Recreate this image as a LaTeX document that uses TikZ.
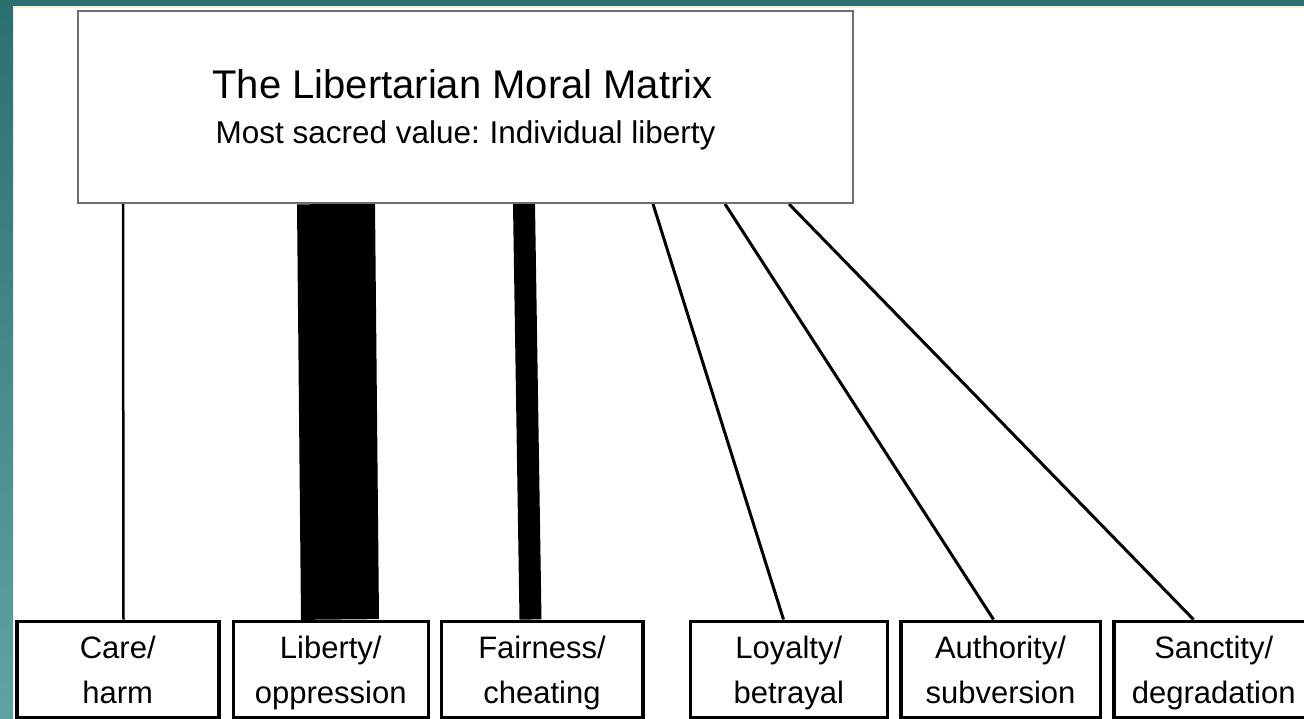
\documentclass[tikz,border=0pt]{standalone}
\usepackage{fontspec}
\setmainfont{Liberation Sans}
\usetikzlibrary{calc}
\definecolor{tealtop}{HTML}{2B7070}
\definecolor{tealbot}{HTML}{5FA3A3}
\definecolor{creamline}{HTML}{F6EED6}
\definecolor{boxgray}{HTML}{6E6E6E}
\newcommand\bstrut{\rule[-10.75pt]{0pt}{45pt}}
\pgfdeclarelayer{bg}
\pgfsetlayers{bg,main}
\begin{document}
\begin{tikzpicture}[x=1pt,y=-1pt,
  found/.style={draw=black,line width=3.5pt,fill=white,minimum height=96.5pt,
    inner sep=2pt,align=center,anchor=north west,
    font=\fontsize{31}{45}\selectfont},
  matrixbox/.style={draw=boxgray,line width=2pt,fill=white,minimum width=775pt,
    minimum height=192pt,inner sep=0pt,anchor=north west},
  thinlink/.style={line width=2.5pt,black},
  slantlink/.style={line width=3pt,black},
  barlink/.style={black}]
\useasboundingbox (0,0) rectangle (1304,718);
\begin{pgfonlayer}{bg}
\fill[white] (0,0) rectangle (1304,718);
\fill[tealtop] (0,0) rectangle (1304,6);
\fill[creamline] (13,6) rectangle (1304,7.5);
\shade[top color=tealtop,bottom color=tealbot] (0,0) rectangle (13,718);
\end{pgfonlayer}

\node[matrixbox] (top) at (77,10) {};
\node[anchor=base,font=\fontsize{40}{48}\selectfont] (title) at ($(top.north)+(-3,88)$) {The Libertarian Moral Matrix};
\node[anchor=base,font=\fontsize{31.5}{40}\selectfont] (sub) at ($(top.north)+(0,133)$) {Most sacred value:\kern-2pt{} Individual liberty};

\node[found,minimum width=202pt] (care) at (15,619.5) {\bstrut Care/\\\bstrut harm};
\node[found,minimum width=195pt] (lib) at (231.5,619.5) {\bstrut Liberty/\\\bstrut oppression};
\node[found,minimum width=201.5pt] (fair) at (439.5,619.5) {\bstrut Fairness/\\\bstrut cheating};
\node[found,minimum width=197pt] (loy) at (688.5,619.5) {\bstrut Loyalty/\\\bstrut betrayal};
\node[found,minimum width=199.5pt] (auth) at (899,619.5) {\bstrut Authority/\\\bstrut subversion};
\node[found,minimum width=200pt] (sanc) at (1112,619.5) {\bstrut Sanctity/\\\bstrut degradation};

\begin{pgfonlayer}{bg}
\draw[thinlink] ($(top.south west)+(46,0)$) -- ($(care.north west)+(108.5,0)$);
\draw[barlink,line width=78pt] ($(top.south west)+(259,0)$) -- ($(lib.north west)+(108.5,0)$);
\draw[barlink,line width=22pt] ($(top.south west)+(447,0)$) -- ($(fair.north west)+(91,0)$);
\draw[slantlink] ($(top.south west)+(576,0)$) -- ($(loy.north west)+(95,0)$);
\draw[slantlink] ($(top.south west)+(648,0)$) -- ($(auth.north west)+(94.5,0)$);
\draw[slantlink] ($(top.south west)+(712,0)$) -- ($(sanc.north west)+(81.5,0)$);
\end{pgfonlayer}
\end{tikzpicture}
\end{document}
